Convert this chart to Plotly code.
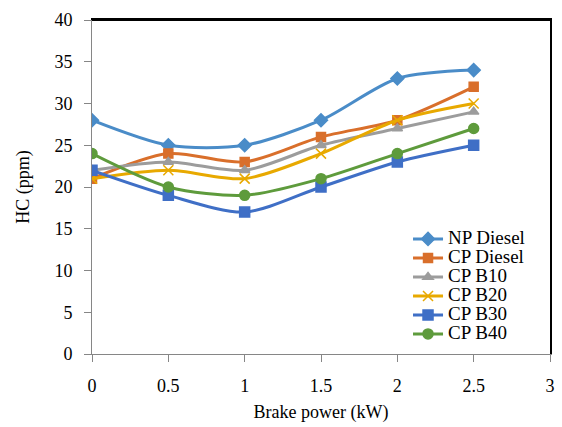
import plotly.graph_objects as go

x_vals = [0, 0.5, 1, 1.5, 2, 2.5]
np_diesel = [28, 25, 25, 28, 33, 34]
cp_diesel = [21, 24, 23, 26, 28, 32]
cp_b10 = [22, 23, 22, 25, 27, 29]
cp_b20 = [21, 22, 21, 24, 28, 30]
cp_b30 = [22, 19, 17, 20, 23, 25]
cp_b40 = [24, 20, 19, 21, 24, 27]
series_names = ["NP Diesel", "CP Diesel", "CP B10", "CP B20", "CP B30", "CP B40"]

styles = [
    ("#4A8CC8", "diamond", 10),
    ("#D96F2B", "square", 9),
    ("#9C9C9C", "triangle-up", 9),
    ("#E8A900", "x-thin", 10),
    ("#3F6FC6", "square", 10),
    ("#5E9B3C", "circle", 10),
]
values = [np_diesel, cp_diesel, cp_b10, cp_b20, cp_b30, cp_b40]

fig = go.Figure()
for name, ys, (color, sym, sz) in zip(series_names, values, styles):
    fig.add_trace(go.Scatter(
        x=x_vals, y=ys, name='<span style="font-size:19px">' + name + '</span>',
        mode="lines+markers",
        line=dict(color=color, width=3, shape="spline", smoothing=0.8),
        marker=dict(symbol=sym, size=sz, color=color,
                    line=dict(color=color, width=1.5)),
    ))

ff = "Times New Roman, Liberation Serif, serif"
fig.update_layout(
    width=562, height=427,
    margin=dict(l=92, r=7, t=20, b=73),
    paper_bgcolor="white", plot_bgcolor="white",
    font=dict(family=ff, size=17, color="black"),
    showlegend=True,
    legend=dict(x=0.69, y=0.388, xanchor="left", yanchor="top",
                bgcolor="rgba(0,0,0,0)",
                font=dict(family=ff, size=12, color="black"),
                tracegroupgap=0, itemwidth=30),
    xaxis=dict(range=[0, 3], dtick=0.5, showgrid=False, zeroline=False,
               showline=True, linecolor="#868686", linewidth=1,
               ticks="outside", ticklen=7, tickcolor="#868686",
               ticklabelstandoff=8,
               tickfont=dict(family=ff, size=18, color="black"),
               title=dict(text="Brake power (kW)", standoff=10,
                          font=dict(family=ff, size=18, color="black"))),
    yaxis=dict(range=[0, 40], dtick=5, showgrid=False, zeroline=False,
               showline=True, linecolor="#868686", linewidth=1,
               ticks="outside", ticklen=7, tickcolor="#868686",
               ticklabelstandoff=8,
               tickfont=dict(family=ff, size=18, color="black"),
               title=dict(text="HC (ppm)", standoff=20,
                          font=dict(family=ff, size=18, color="black"))),
    xaxis2=dict(range=[0, 3], overlaying="x", side="top", showline=True,
                linecolor="black", linewidth=2, showticklabels=False,
                ticks="", showgrid=False, zeroline=False),
    yaxis2=dict(range=[0, 40], overlaying="y", side="right", showline=True,
                linecolor="black", linewidth=2, showticklabels=False,
                ticks="", showgrid=False, zeroline=False),
    shapes=[
        dict(type="line", xref="paper", yref="paper", x0=0, x1=1, y0=1, y1=1,
             line=dict(color="black", width=2), layer="above"),
    ],
)
# empty trace so the black frame axes are drawn
fig.add_trace(go.Scatter(x=[None], y=[None], xaxis="x2", yaxis="y2",
                         showlegend=False, hoverinfo="skip"))

fig.write_html("out.html", config={"displayModeBar": False},
               post_script="document.body.style.margin='0';")
